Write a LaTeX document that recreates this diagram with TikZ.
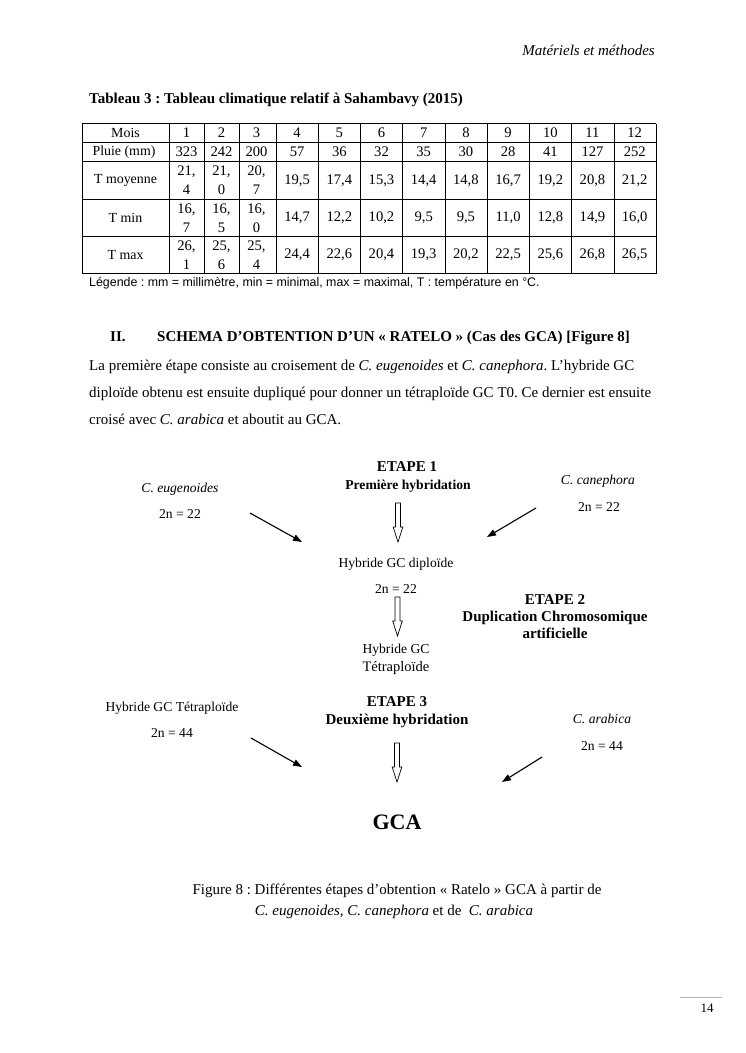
\documentclass[tikz,border=0pt]{standalone}
\usepackage{fontspec}
\setmainfont{Liberation Serif}
\newfontfamily\arialf{Liberation Sans}
\usetikzlibrary{arrows.meta,calc}
\frenchspacing
\newcommand\hollowarr[2]{%
  \draw[hollow] ($(#1)+(-2.5,0)$) -- ($(#2)+(-2.5,-15)$) -- ($(#2)+(-4.8,-15)$) -- (#2)
    -- ($(#2)+(4.8,-15)$) -- ($(#2)+(2.5,-15)$) -- ($(#1)+(2.5,0)$) -- cycle;}
\begin{document}
\begin{tikzpicture}[x=1pt,y=-1pt,
  basetxt/.style={inner sep=0pt, anchor=base},
  body/.style={basetxt, font=\fontsize{15}{18}\selectfont},
  just/.style={inner sep=0pt, anchor=base west, text width=567pt, align=justify, font=\fontsize{15}{18}\selectfont},
  lbl/.style={basetxt, font=\fontsize{13.6}{17}\selectfont},
  blbl/.style={basetxt, font=\fontsize{13.6}{17}\selectfont\bfseries},
  bbig/.style={basetxt, font=\fontsize{15}{18}\selectfont\bfseries},
  cell/.style={inner sep=0pt, align=center, font=\fontsize{14.6}{19}\selectfont},
  rowlab/.style={inner sep=0pt, align=center, font=\fontsize{13.9}{19}\selectfont},
  grid/.style={line width=0.6pt},
  cross/.style={line width=1.1pt, -{Triangle[length=9pt,width=6.5pt]}},
  hollow/.style={line width=0.7pt, fill=white},
]
\useasboundingbox[fill=white] (0,0) rectangle (745,1053);

% header
\node[body, anchor=base east, font=\fontsize{15}{18}\selectfont\itshape] (hdr) at (655,55) {Matériels et méthodes};
\node[body, anchor=base west, font=\fontsize{15}{18}\selectfont\bfseries] (tabtitle) at (89,103) {Tableau 3 : Tableau climatique relatif à Sahambavy (2015)};

% table grid
\foreach \yy in {123.5,142.5,161.5,199.5,236.5,273.5}
  \draw[grid] (82,\yy) -- (656,\yy);
\foreach \xx in {82,169,204,239,276,318.2,360.4,402.7,444.9,487.1,529.3,571.6,613.8,656}
  \draw[grid] (\xx,123.5) -- (\xx,273.5);

% row labels
\node[rowlab] (l1) at (125.5,133) {Mois};
\node[rowlab] (l2) at (124,152) {Pluie (mm)};
\node[rowlab] (l3) at (125.5,180.5) {T moyenne};
\node[rowlab] (l4) at (125.5,218) {T min};
\node[rowlab] (l5) at (125.5,255) {T max};

\foreach \v [count=\i] in {1,2,3,4,5,6,7,8,9,10,11,12}{
  \pgfmathsetmacro\xc{\i<4 ? 151.5+35*\i : 276+42.2*(\i-4)+21.1}
  \node[cell] (a-\i) at (\xc,133) {\v};}
\foreach \v [count=\i] in {323,242,200,57,36,32,35,30,28,41,127,252}{
  \pgfmathsetmacro\xc{\i<4 ? 151.5+35*\i : 276+42.2*(\i-4)+21.1}
  \node[cell] (b-\i) at (\xc,152) {\v};}
\foreach \v [count=\i] in {{21,\\4},{21,\\0},{20,\\7},{19,5},{17,4},{15,3},{14,4},{14,8},{16,7},{19,2},{20,8},{21,2}}{
  \pgfmathsetmacro\xc{\i<4 ? 151.5+35*\i : 276+42.2*(\i-4)+21.1}
  \node[cell] (c-\i) at (\xc,180.5) {\v};}
\foreach \v [count=\i] in {{16,\\7},{16,\\5},{16,\\0},{14,7},{12,2},{10,2},{9,5},{9,5},{11,0},{12,8},{14,9},{16,0}}{
  \pgfmathsetmacro\xc{\i<4 ? 151.5+35*\i : 276+42.2*(\i-4)+21.1}
  \node[cell] (d-\i) at (\xc,218) {\v};}
\foreach \v [count=\i] in {{26,\\1},{25,\\6},{25,\\4},{24,4},{22,6},{20,4},{19,3},{20,2},{22,5},{25,6},{26,8},{26,5}}{
  \pgfmathsetmacro\xc{\i<4 ? 151.5+35*\i : 276+42.2*(\i-4)+21.1}
  \node[cell] (e-\i) at (\xc,255) {\v};}

\node[basetxt, anchor=base west, font=\arialf\fontsize{12.4}{15}\selectfont] (legend) at (89,286)
  {Légende : mm = millimètre, min = minimal, max = maximal, T : température en °C.};

% section heading and paragraph
\node[body, anchor=base west, font=\fontsize{15}{18}\selectfont\bfseries] (secnum) at (110,341) {II.};
\node[body, anchor=base west, font=\fontsize{15}{18}\selectfont\bfseries] (sectitle) at (157,341)
  {SCHEMA D’OBTENTION D’UN « RATELO » (Cas des GCA) [Figure 8]};
\node[just] (p1) at (89,370) {\parfillskip=0pt La première étape consiste au croisement de \textit{C. eugenoides} et \textit{C. canephora}. L’hybride GC};
\node[just] (p2) at (89,397) {\parfillskip=0pt diploïde obtenu est ensuite dupliqué pour donner un tétraploïde GC T0. Ce dernier est ensuite};
\node[body, anchor=base west] (p3) at (89,424) {croisé avec \textit{C. arabica} et aboutit au GCA.};

% diagram - step 1
\node[bbig] (e1) at (407,471) {ETAPE 1};
\node[blbl] (e1b) at (408,489) {Première hybridation};
\node[lbl, font=\fontsize{13.6}{17}\selectfont\itshape] (eug) at (180,492.5) {C. eugenoides};
\node[lbl] (eugn) at (180,518.5) {2n = 22};
\node[lbl, font=\fontsize{13.6}{17}\selectfont\itshape] (can) at (598,484.5) {C. canephora};
\node[lbl] (cann) at (599,511.5) {2n = 22};
\node[lbl] (dip) at (396,567.5) {Hybride GC diploïde};
\node[lbl] (dipn) at (396,593.5) {2n = 22};

\coordinate (l1s) at (250,513);
\coordinate (l1e) at (302,542);
\coordinate (r1s) at (536,508);
\coordinate (r1e) at (487,537);
\draw[cross] (l1s) -- (l1e);
\draw[cross] (r1s) -- (r1e);
\coordinate (h1top) at (398,503);
\coordinate (h1tip) at (398,542);
\hollowarr{h1top}{h1tip}

% step 2
\node[bbig] (e2) at (555,604) {ETAPE 2};
\node[bbig] (e2b) at (555,621) {Duplication Chromosomique};
\node[bbig] (e2c) at (555,638) {artificielle};
\coordinate (h2top) at (397.5,597);
\coordinate (h2tip) at (397.5,636);
\hollowarr{h2top}{h2tip}
\node[lbl] (tet1) at (396,653.5) {Hybride GC};
\node[lbl, font=\fontsize{14.5}{17}\selectfont] (tet2) at (396,671) {Tétraploïde};

% step 3
\node[lbl] (tet) at (172,711.5) {Hybride GC Tétraploïde};
\node[lbl] (tetn) at (172,737.5) {2n = 44};
\node[bbig] (e3) at (397,706.5) {ETAPE 3};
\node[bbig] (e3b) at (397,724.5) {Deuxième hybridation};
\node[lbl, font=\fontsize{13.6}{17}\selectfont\itshape] (ara) at (602,723.5) {C. arabica};
\node[lbl] (aran) at (602,750.5) {2n = 44};
\coordinate (l3s) at (251,738);
\coordinate (l3e) at (302,767);
\coordinate (r3s) at (542,757);
\coordinate (r3e) at (502,782);
\draw[cross] (l3s) -- (l3e);
\draw[cross] (r3s) -- (r3e);
\coordinate (h3top) at (397,743);
\coordinate (h3tip) at (397,782);
\hollowarr{h3top}{h3tip}

\node[basetxt, font=\fontsize{22}{26}\selectfont\bfseries] (gca) at (397,829.5) {GCA};

% caption
\node[body] (cap1) at (397,894) {Figure 8 : Différentes étapes d’obtention « Ratelo » GCA à partir de};
\node[body] (cap2) at (394,915) {\textit{C. eugenoides, C. canephora} et de \ \textit{C. arabica}};

% page number
\coordinate (pl) at (680,997);
\coordinate (pr) at (722,997);
\draw[gray!60, line width=0.5pt] (pl) -- (pr);
\node[basetxt, font=\fontsize{13}{15}\selectfont] (pnum) at (707,1012) {14};
\end{tikzpicture}
\end{document}
